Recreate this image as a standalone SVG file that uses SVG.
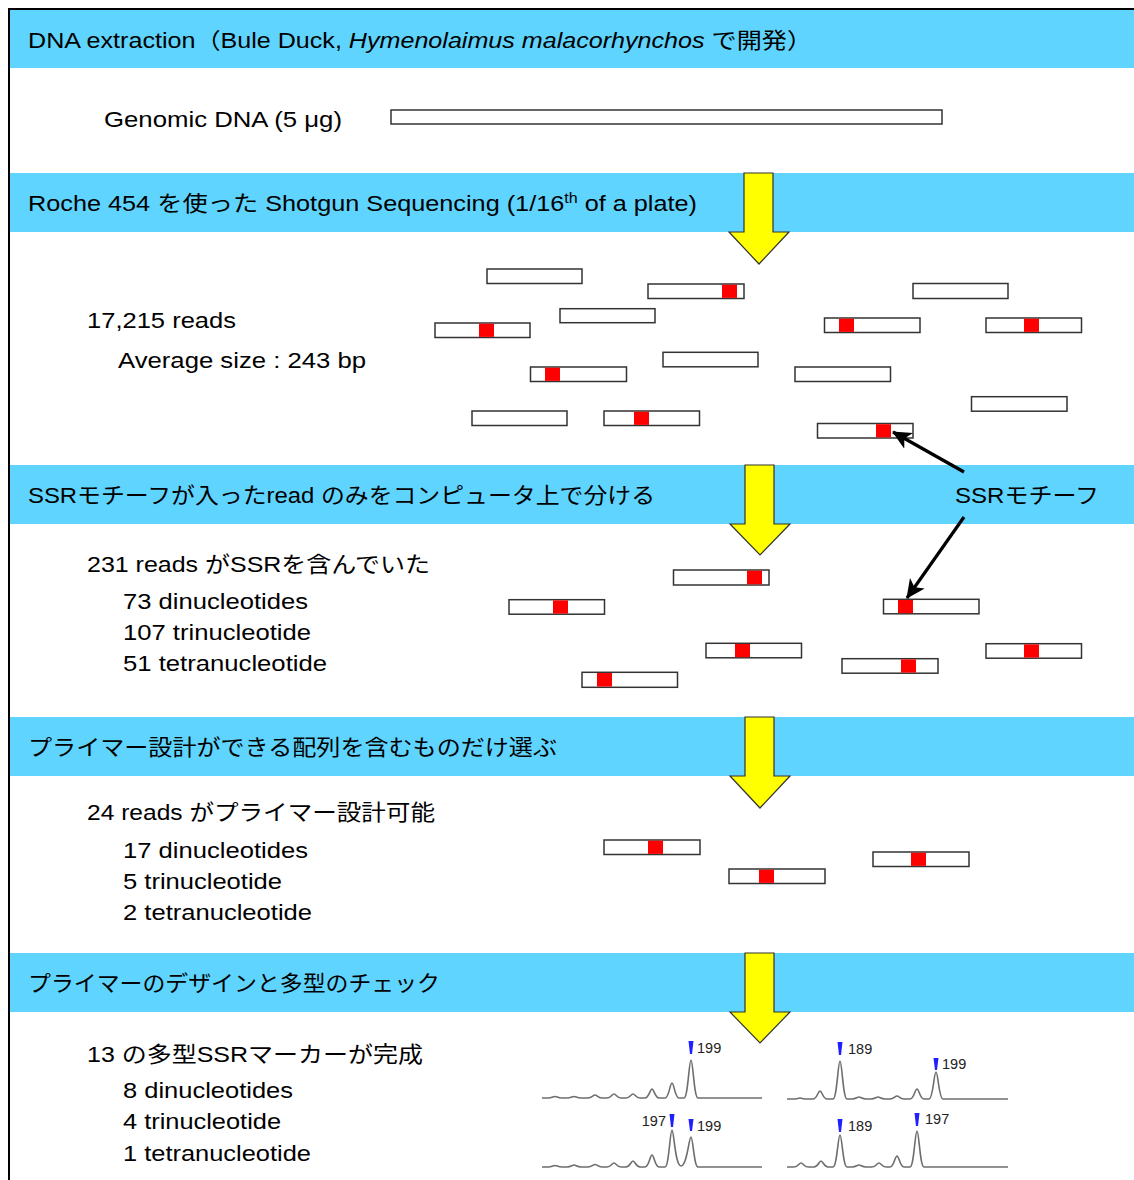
<svg xmlns="http://www.w3.org/2000/svg" width="1134" height="1180" viewBox="0 0 1134 1180">
<style>
text{font-family:"Liberation Sans","Noto Sans CJK JP",sans-serif;fill:#000}
.band{fill:#5ED4FF}
.h{font-size:22px}
.b{font-size:22px}
.read{fill:#fff;stroke:#333;stroke-width:1.5}
.ssr{fill:#f00}
.ya{fill:#ff0;stroke:#333;stroke-width:1.2;stroke-linejoin:miter}
.ca{stroke:#000;stroke-width:3.2;fill:none}
.tr{fill:none;stroke:#6e6e6e;stroke-width:1.6;stroke-linejoin:round}
.mk{fill:#1f1fff}
.lb{font-size:14.5px;fill:#222}
</style>
<defs>
<marker id="ah" markerUnits="userSpaceOnUse" markerWidth="22" markerHeight="20" refX="18" refY="9" orient="auto" viewBox="0 0 22 18">
<path d="M0,0 L19,9 L0,18 L5,9 Z" fill="#000"/>
</marker>
</defs>
<rect width="1134" height="1180" fill="#fff"/>

<g id="stage1">
<rect class="band" x="10" y="10" width="1124" height="58"/>
<text class="h" x="28" y="48" textLength="784" lengthAdjust="spacingAndGlyphs">DNA extraction（Bule Duck, <tspan font-style="italic">Hymenolaimus malacorhynchos</tspan> で開発）</text>
<text class="b" x="104" y="127" textLength="238" lengthAdjust="spacingAndGlyphs">Genomic DNA (5 μg)</text>
<rect class="read" x="391" y="110" width="551" height="14"/>
</g>

<g id="stage2">
<rect class="band" x="10" y="173" width="1124" height="59"/>
<text class="h" x="28" y="211" textLength="669" lengthAdjust="spacingAndGlyphs">Roche 454 を使った Shotgun Sequencing (1/16<tspan font-size="14" dy="-8">th</tspan><tspan dy="8"> of a plate)</tspan></text>
<text class="b" x="87" y="328" textLength="149" lengthAdjust="spacingAndGlyphs">17,215 reads</text>
<text class="b" x="118" y="368" textLength="248" lengthAdjust="spacingAndGlyphs">Average size : 243 bp</text>
<rect class="read" x="487" y="269" width="95" height="14.5"/>
<rect class="read" x="648" y="284" width="96" height="14.5"/><rect class="ssr" x="722" y="284.7" width="15" height="13.2"/>
<rect class="read" x="560" y="308.7" width="95" height="14"/>
<rect class="read" x="435" y="323" width="95" height="14.5"/><rect class="ssr" x="479" y="323.7" width="15" height="13.2"/>
<rect class="read" x="663" y="352.3" width="95" height="14.5"/>
<rect class="read" x="530.5" y="367" width="96" height="14.5"/><rect class="ssr" x="545" y="367.7" width="15" height="13.2"/>
<rect class="read" x="472" y="411" width="95" height="14.5"/>
<rect class="read" x="604" y="411" width="95.5" height="14.5"/><rect class="ssr" x="634" y="411.7" width="15" height="13.2"/>
<rect class="read" x="913" y="283.5" width="95" height="15"/>
<rect class="read" x="824.5" y="318" width="95.5" height="14.5"/><rect class="ssr" x="839" y="318.7" width="15" height="13.2"/>
<rect class="read" x="986" y="318" width="95.5" height="14.5"/><rect class="ssr" x="1024" y="318.7" width="15" height="13.2"/>
<rect class="read" x="795" y="367" width="95.5" height="14.5"/>
<rect class="read" x="971.5" y="396.7" width="95.5" height="14.5"/>
<rect class="read" x="817.5" y="423.5" width="95.5" height="14.5"/><rect class="ssr" x="876" y="424.2" width="15" height="13.2"/>
</g>

<g id="stage3">
<rect class="band" x="10" y="465" width="1124" height="59"/>
<text class="h" x="28" y="503" textLength="627" lengthAdjust="spacingAndGlyphs">SSRモチーフが入ったread のみをコンピュータ上で分ける</text>
<text class="b" x="87" y="572" textLength="343" lengthAdjust="spacingAndGlyphs">231 reads がSSRを含んでいた</text>
<text class="b" x="123" y="609" textLength="185" lengthAdjust="spacingAndGlyphs">73 dinucleotides</text>
<text class="b" x="123" y="640" textLength="188" lengthAdjust="spacingAndGlyphs">107 trinucleotide</text>
<text class="b" x="123" y="671" textLength="204" lengthAdjust="spacingAndGlyphs">51 tetranucleotide</text>
<rect class="read" x="673.5" y="570" width="95.5" height="15"/><rect class="ssr" x="747" y="570.7" width="15" height="13.6"/>
<rect class="read" x="509" y="599.7" width="95.5" height="14.5"/><rect class="ssr" x="553" y="600.4" width="15" height="13.2"/>
<rect class="read" x="706" y="643.3" width="95.5" height="14.5"/><rect class="ssr" x="735" y="644" width="15" height="13.2"/>
<rect class="read" x="582" y="672.3" width="95.5" height="15"/><rect class="ssr" x="597" y="673" width="15" height="13.6"/>
<rect class="read" x="883.5" y="599.3" width="95.5" height="14.5"/><rect class="ssr" x="898" y="600" width="15" height="13.2"/>
<rect class="read" x="842" y="658.7" width="96" height="14.5"/><rect class="ssr" x="901" y="659.4" width="15" height="13.2"/>
<rect class="read" x="986" y="643.7" width="95.5" height="14.5"/><rect class="ssr" x="1024" y="644.4" width="15" height="13.2"/>
</g>

<g id="ssr-label">
<text class="b" x="955" y="503" textLength="144" lengthAdjust="spacingAndGlyphs">SSRモチーフ</text>
</g>

<g id="stage4">
<rect class="band" x="10" y="717" width="1124" height="59"/>
<text class="h" x="28" y="755" textLength="529" lengthAdjust="spacingAndGlyphs">プライマー設計ができる配列を含むものだけ選ぶ</text>
<text class="b" x="87" y="820" textLength="348" lengthAdjust="spacingAndGlyphs">24 reads がプライマー設計可能</text>
<text class="b" x="123" y="858" textLength="185" lengthAdjust="spacingAndGlyphs">17 dinucleotides</text>
<text class="b" x="123" y="889" textLength="159" lengthAdjust="spacingAndGlyphs">5 trinucleotide</text>
<text class="b" x="123" y="920" textLength="189" lengthAdjust="spacingAndGlyphs">2 tetranucleotide</text>
<rect class="read" x="604" y="840" width="96" height="14.5"/><rect class="ssr" x="648" y="840.7" width="15" height="13.2"/>
<rect class="read" x="729" y="869" width="96" height="14.5"/><rect class="ssr" x="759" y="869.7" width="15" height="13.2"/>
<rect class="read" x="873" y="852" width="96" height="14.5"/><rect class="ssr" x="911" y="852.7" width="15" height="13.2"/>
</g>

<g id="stage5">
<rect class="band" x="10" y="953" width="1124" height="59"/>
<text class="h" x="28" y="991" textLength="412" lengthAdjust="spacingAndGlyphs">プライマーのデザインと多型のチェック</text>
<text class="b" x="87" y="1062" textLength="336" lengthAdjust="spacingAndGlyphs">13 の多型SSRマーカーが完成</text>
<text class="b" x="123" y="1098" textLength="170" lengthAdjust="spacingAndGlyphs">8 dinucleotides</text>
<text class="b" x="123" y="1129" textLength="158" lengthAdjust="spacingAndGlyphs">4 trinucleotide</text>
<text class="b" x="123" y="1161" textLength="188" lengthAdjust="spacingAndGlyphs">1 tetranucleotide</text>
<path class="tr" d="M542,1098 L548,1098 C552,1098 553,1096.5 555,1096.5 C557,1096.5 558,1098 562,1098 L567,1098 C571,1098 572,1096.5 574,1096.5 C576,1096.5 577,1098 581,1098 L588,1098 C592,1098 593,1095 595,1095 C597,1095 598,1098 602,1098 L607,1098 C611,1098 612,1094 614,1094 C616,1094 617,1098 621,1098 L626,1098 C630,1098 631,1094 633,1094 C635,1094 636,1098 640,1098 L645,1098 C649,1098 650,1089 652,1089 C654,1089 655,1098 659,1098 L665,1098 C669,1098 670,1083 672,1083 C674,1083 675,1098 679,1098 L684,1098 C688,1098 689,1060 691,1060 C693,1060 694,1098 698,1098 L762,1098"/>
<path class="tr" d="M542,1167 L548,1167 C552,1167 553,1165.5 555,1165.5 C557,1165.5 558,1167 562,1167 L567,1167 C571,1167 572,1165 574,1165 C576,1165 577,1167 581,1167 L588,1167 C592,1167 593,1164.5 595,1164.5 C597,1164.5 598,1167 602,1167 L607,1167 C611,1167 612,1163 614,1163 C616,1163 617,1167 621,1167 L626,1167 C630,1167 631,1161 633,1161 C635,1161 636,1167 640,1167 L645,1167 C649,1167 650,1155 652,1155 C654,1155 655,1167 659,1167 L665,1167 C669,1167 670,1130 672,1130 C674,1130 675,1166 681,1166 C687,1166 689,1137 691,1137 C693,1137 694,1167 698,1167 L762,1167"/>
<path class="tr" d="M787,1099 L794,1099 C797,1099 798,1098 800,1098 C802,1098 803,1099 806,1099 L813,1099 C817,1099 818,1091 820,1091 C822,1091 823,1099 827,1099 L833,1099 C837,1099 838,1061 840,1061 C842,1061 843,1099 847,1099 L852,1099 C856,1099 857,1097 859,1097 C861,1097 862,1099 866,1099 L871,1099 C875,1099 876,1097 878,1097 C880,1097 881,1099 885,1099 L890,1099 C894,1099 895,1096 897,1096 C899,1096 900,1099 904,1099 L910,1099 C914,1099 915,1089 917,1089 C919,1089 920,1099 924,1099 L929,1099 C933,1099 934,1072 936,1072 C938,1072 939,1099 943,1099 L1008,1099"/>
<path class="tr" d="M787,1167 L794,1167 C798,1167 799,1163 801,1163 C803,1163 804,1167 808,1167 L814,1167 C818,1167 819,1161 821,1161 C823,1161 824,1167 828,1167 L833,1167 C837,1167 838,1135 840,1135 C842,1135 843,1167 847,1167 L852,1167 C856,1167 857,1165 859,1165 C861,1165 862,1167 866,1167 L872,1167 C876,1167 877,1163 879,1163 C881,1163 882,1167 886,1167 L890,1167 C894,1167 895,1156 897,1156 C899,1156 900,1167 904,1167 L910,1167 C914,1167 915,1131 917,1131 C919,1131 920,1167 924,1167 L1008,1167"/>
<path class="mk" d="M688.5,1041 L693.5,1041 L692,1054 L690,1054 Z"/>
<text class="lb" x="697" y="1053">199</text>
<path class="mk" d="M669.5,1114 L674.5,1114 L673,1127 L671,1127 Z"/>
<text class="lb" x="666" y="1126" text-anchor="end">197</text>
<path class="mk" d="M688.5,1119 L693.5,1119 L692,1131 L690,1131 Z"/>
<text class="lb" x="697" y="1131">199</text>
<path class="mk" d="M837.5,1042 L842.5,1042 L841,1055 L839,1055 Z"/>
<text class="lb" x="848" y="1054">189</text>
<path class="mk" d="M933.5,1058 L938.5,1058 L937,1070 L935,1070 Z"/>
<text class="lb" x="942" y="1069">199</text>
<path class="mk" d="M837.5,1119 L842.5,1119 L841,1132 L839,1132 Z"/>
<text class="lb" x="848" y="1131">189</text>
<path class="mk" d="M914.5,1113 L919.5,1113 L918,1126 L916,1126 Z"/>
<text class="lb" x="925" y="1124">197</text>
</g>

<g id="frame">
<line x1="8" y1="9" x2="1134" y2="9" stroke="#000" stroke-width="2"/>
<line x1="9" y1="8" x2="9" y2="1180" stroke="#000" stroke-width="2"/>
</g>

<g id="connectors">
<path class="ya" d="M744,173 L773,173 L773,232 L789,232 L759,264 L729,232 L744,232 Z"/>
<path class="ya" d="M745,465 L774,465 L774,524 L790,524 L760,555 L730,524 L745,524 Z"/>
<path class="ya" d="M745,717 L774,717 L774,776 L790,776 L760,808 L730,776 L745,776 Z"/>
<path class="ya" d="M745,953 L774,953 L774,1012 L790,1012 L760,1043 L730,1012 L745,1012 Z"/>
<line class="ca" x1="964" y1="472" x2="893" y2="432" marker-end="url(#ah)"/>
<line class="ca" x1="964" y1="517" x2="907" y2="598" marker-end="url(#ah)"/>
</g>
</svg>
